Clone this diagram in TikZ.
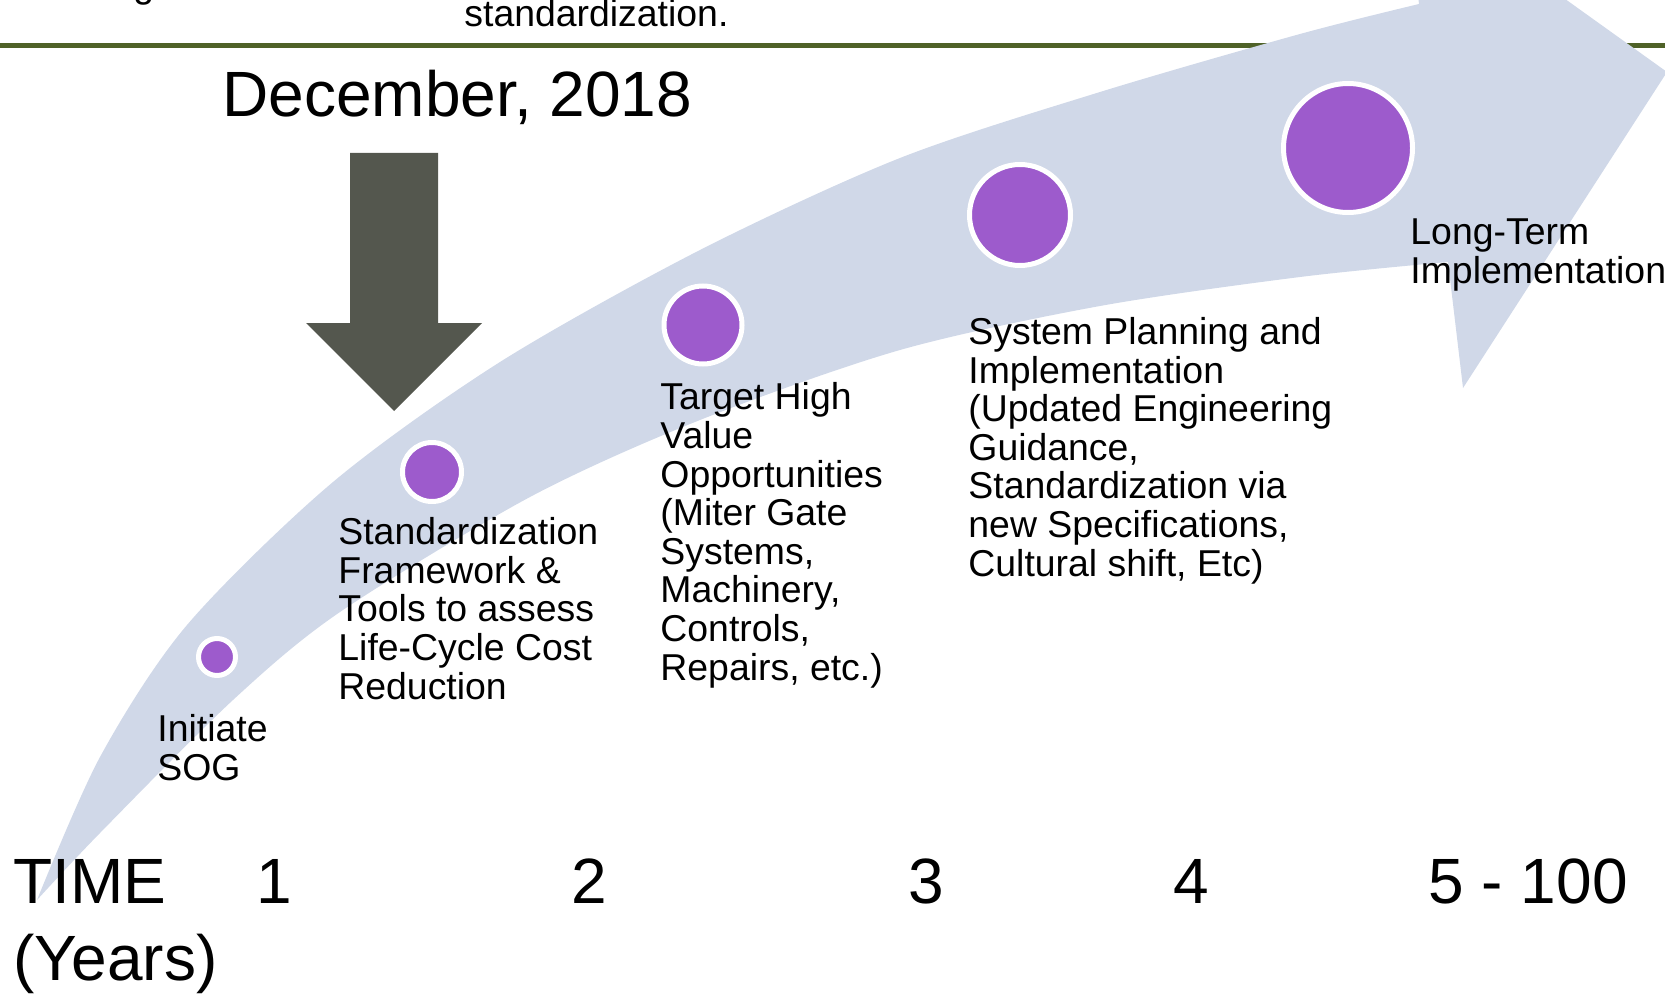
\documentclass[tikz,border=0pt]{standalone}
\usepackage{fontspec}
\setmainfont{Liberation Sans}
\definecolor{bandblue}{RGB}{208,216,232}
\definecolor{dotpurple}{RGB}{157,91,204}
\definecolor{arrowgrey}{RGB}{84,87,78}
\definecolor{rulegreen}{RGB}{79,98,40}
\tikzset{
  lbl/.style={anchor=base west, inner sep=0pt, align=left, font=\fontsize{18.7}{19.3}\selectfont},
  big/.style={anchor=base west, inner sep=0pt, align=left, font=\fontsize{32}{38.5}\selectfont},
  dot/.style={circle, fill=dotpurple, draw=white, line width=2.5pt, inner sep=0pt},
}
\begin{document}
\begin{tikzpicture}[x=0.5pt,y=-0.5pt]
\useasboundingbox (0,0) rectangle (1665,995);
\clip (0,0) rectangle (1665,995);
% rule under the title
\draw[rulegreen, line width=2.5pt] (0,45.5) -- (1665,45.5);
% big curved arrow
\fill[bandblue] plot[smooth] coordinates {(37,900) (100,757) (187,625) (333,482) (500,362) (700,250) (900,158) (1100,92) (1300,34) (1419,4)}
  -- (1406,-115) -- (1667,72) -- (1463,388) -- (1448,262)
  -- plot[smooth] coordinates {(1448,262) (1300,277) (1100,306) (900,350) (700,420) (530,497) (340,612) (233,700) (100,833) (37,900)} -- cycle;
% down arrow
\fill[arrowgrey] (350,153) -- (438,153) -- (438,323) -- (482,323) -- (394,411) -- (306,323) -- (350,323) -- cycle;
% milestones
\node[dot, minimum size=18.5pt] (m1) at (217,657) {};
\node[dot, minimum size=29.5pt] (m2) at (432,472) {};
\node[dot, minimum size=39pt] (m3) at (703,325) {};
\node[dot, minimum size=50.5pt] (m4) at (1020,215) {};
\node[dot, minimum size=64.5pt] (m5) at (1348,148) {};
% texts (placed by the baseline of their last line)
\node[lbl] (frag) at (133,-2) {g};
\node[lbl] (top) at (464,27) {standardization.};
\node[big] (date) at (222,117) {December, 2018};
\node[lbl] (t1) at (157,780) {Initiate\\SOG};
\node[lbl] (t2) at (338,699) {Standardization\\Framework \&\\Tools to assess\\Life-Cycle Cost\\Reduction};
\node[lbl] (t3) at (660,680) {Target High\\Value\\Opportunities\\(Miter Gate\\Systems,\\Machinery,\\Controls,\\Repairs, etc.)};
\node[lbl] (t4) at (968,576) {System Planning and\\Implementation\\(Updated Engineering\\Guidance,\\Standardization via\\new Specifications,\\Cultural shift, Etc)};
\node[lbl] (t5) at (1410,283) {Long-Term\\Implementation};
% time axis
\node[big] (time) at (13,980) {TIME\\(Years)};
\node[big] (y1) at (256,903) {1};
\node[big] (y2) at (571,903) {2};
\node[big] (y3) at (908,903) {3};
\node[big] (y4) at (1173,903) {4};
\node[big] (y5) at (1428,903) {5 - 100};
\end{tikzpicture}
\end{document}
